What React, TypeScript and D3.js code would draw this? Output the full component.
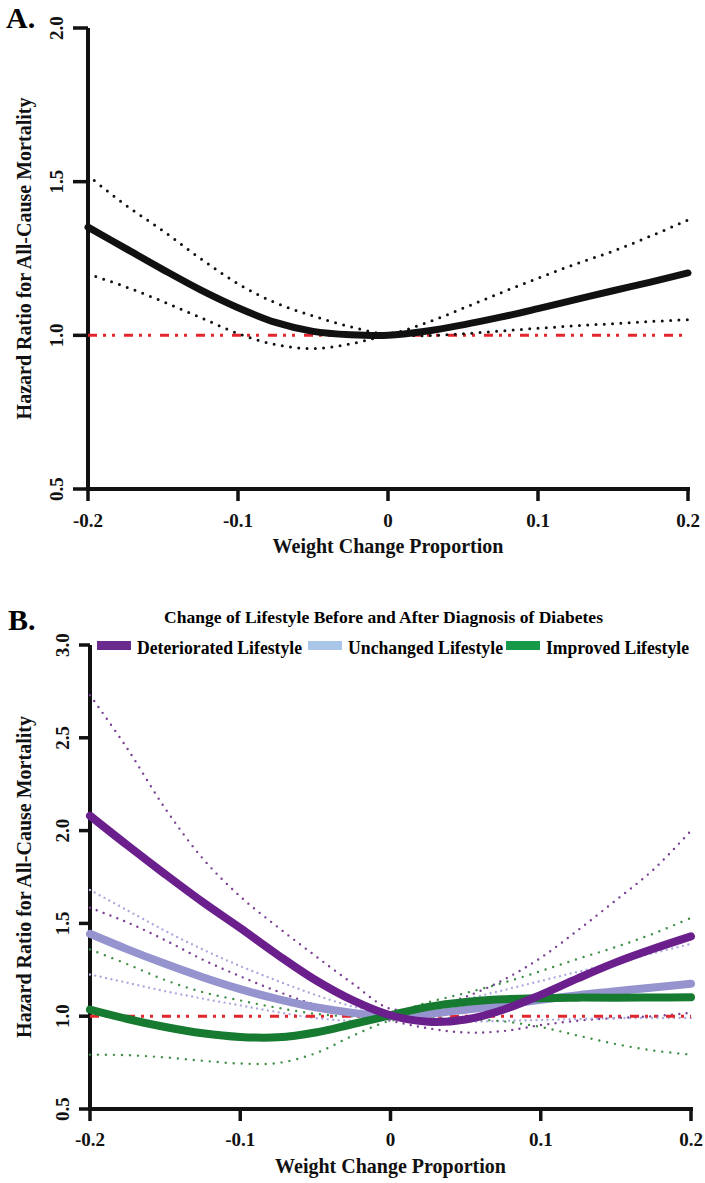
import React from "react";
import * as d3 from "d3";

// shared x grid (weight change proportion)
const xGrid = [-0.2, -0.175, -0.15, -0.125, -0.1, -0.075, -0.05, -0.025, 0, 0.025, 0.05, 0.075, 0.1, 0.125, 0.15, 0.175, 0.2];

const xTicks = [-0.2, -0.1, 0, 0.1, 0.2];
const xTickLabels = ["-0.2", "-0.1", "0", "0.1", "0.2"];
const yTicksA = [0.5, 1.0, 1.5, 2.0];
const yTicksB = [0.5, 1.0, 1.5, 2.0, 2.5, 3.0];

// Panel A: overall
const hrA = [1.352, 1.283, 1.214, 1.148, 1.09, 1.042, 1.013, 1.002, 1.0, 1.013, 1.034, 1.059, 1.087, 1.116, 1.145, 1.173, 1.203];
const upperA = [1.52, 1.424, 1.34, 1.25, 1.168, 1.106, 1.063, 1.028, 1.006, 1.04, 1.088, 1.138, 1.186, 1.232, 1.274, 1.323, 1.375];
const lowerA = [1.2, 1.158, 1.11, 1.058, 1.006, 0.97, 0.957, 0.972, 0.998, 0.999, 1.005, 1.014, 1.023, 1.031, 1.038, 1.045, 1.051];

// Panel B: by lifestyle change
const hrDet = [2.08, 1.92, 1.765, 1.615, 1.475, 1.33, 1.195, 1.085, 1.005, 0.97, 0.982, 1.035, 1.115, 1.205, 1.29, 1.363, 1.43];
const upperDet = [2.73, 2.44, 2.12, 1.85, 1.645, 1.48, 1.325, 1.175, 1.04, 1.05, 1.105, 1.195, 1.315, 1.465, 1.625, 1.79, 2.0];
const lowerDet = [1.584, 1.505, 1.41, 1.305, 1.215, 1.133, 1.062, 1.015, 0.975, 0.935, 0.912, 0.92, 0.952, 0.976, 0.99, 1.0, 1.018];

const hrUnc = [1.444, 1.36, 1.282, 1.21, 1.146, 1.092, 1.048, 1.018, 1.0, 1.012, 1.035, 1.06, 1.088, 1.113, 1.134, 1.155, 1.175];
const upperUnc = [1.68, 1.57, 1.46, 1.36, 1.27, 1.19, 1.115, 1.052, 1.015, 1.035, 1.09, 1.14, 1.19, 1.24, 1.29, 1.34, 1.39];
const lowerUnc = [1.225, 1.18, 1.135, 1.095, 1.058, 1.022, 0.99, 0.975, 0.982, 0.975, 0.97, 0.975, 0.98, 0.985, 0.99, 0.99, 0.99];

const hrImp = [1.036, 0.985, 0.942, 0.908, 0.888, 0.886, 0.912, 0.958, 1.005, 1.05, 1.077, 1.091, 1.097, 1.1, 1.1, 1.101, 1.102];
const upperImp = [1.36, 1.28, 1.195, 1.13, 1.085, 1.045, 1.013, 1.0, 1.015, 1.075, 1.125, 1.18, 1.243, 1.31, 1.373, 1.445, 1.53];
const lowerImp = [0.793, 0.79, 0.778, 0.76, 0.745, 0.748, 0.8, 0.895, 0.975, 0.99, 0.985, 0.972, 0.942, 0.895, 0.85, 0.815, 0.793];

const legendLabels = ["Deteriorated Lifestyle", "Unchanged Lifestyle", "Improved Lifestyle"];
const legendColors = ["#6b2a8e", "#a9c5e8", "#169a4a"];

const FONT = "'Liberation Serif', 'Times New Roman', serif";

const Axes = ({ x, y, yTicks, tickLen, yLabelX, xLabelY, titleY, yTitleX }) => {
  const [x0, x1] = x.range();
  const [yb, yt] = y.range();
  return (
    <g fontFamily={FONT} fontWeight="bold" fill="#111">
      <line x1={x0} x2={x0} y1={yt} y2={yb + 2} stroke="#111" strokeWidth={4} />
      <line x1={x0 - 2} x2={x1 + 2} y1={yb} y2={yb} stroke="#111" strokeWidth={4} />
      {yTicks.map((t) => (
        <g key={t}>
          <line x1={x0 - tickLen} x2={x0} y1={y(t)} y2={y(t)} stroke="#111" strokeWidth={3.5} />
          <text
            transform={`translate(${yLabelX},${y(t)}) rotate(-90)`}
            textAnchor="middle"
            fontSize={19}
          >
            {t.toFixed(1)}
          </text>
        </g>
      ))}
      {xTicks.map((t, i) => (
        <g key={t}>
          <line x1={x(t)} x2={x(t)} y1={yb} y2={yb + 12} stroke="#111" strokeWidth={3.5} />
          <text x={x(t)} y={xLabelY} textAnchor="middle" fontSize={19}>
            {xTickLabels[i]}
          </text>
        </g>
      ))}
      <text x={(x0 + x1) / 2} y={titleY} textAnchor="middle" fontSize={20}>
        Weight Change Proportion
      </text>
      <text
        transform={`translate(${yTitleX},${(yb + yt) / 2}) rotate(-90)`}
        textAnchor="middle"
        fontSize={20}
      >
        Hazard Ratio for All-Cause Mortality
      </text>
    </g>
  );
};

const refLine = (x, y) => (
  <line
    x1={x.range()[0]}
    x2={x.range()[1]}
    y1={y(1)}
    y2={y(1)}
    stroke="#e3262d"
    strokeWidth={3}
    strokeDasharray="9 6 3 6 3 9"
  />
);

const App = () => {
  // Panel A scales
  const xA = d3.scaleLinear().domain([-0.2, 0.2]).range([88, 688]);
  const yA = d3.scaleLinear().domain([0.5, 2.0]).range([489, 28]);
  // Panel B scales
  const xB = d3.scaleLinear().domain([-0.2, 0.2]).range([90, 691]);
  const yB = d3.scaleLinear().domain([0.5, 3.0]).range([1109, 645]);

  const lineA = d3
    .line<number>()
    .x((d, i) => xA(xGrid[i]))
    .y((d) => yA(d))
    .curve(d3.curveCatmullRom.alpha(0.5));
  const lineB = d3
    .line<number>()
    .x((d, i) => xB(xGrid[i]))
    .y((d) => yB(d))
    .curve(d3.curveCatmullRom.alpha(0.5));

  const dotted = (path, color, gap, w = 2.8) => (
    <path
      d={path}
      fill="none"
      stroke={color}
      strokeWidth={w}
      strokeLinecap="round"
      strokeDasharray={`0 ${gap}`}
    />
  );
  const solid = (path, color, w) => (
    <path d={path} fill="none" stroke={color} strokeWidth={w} strokeLinecap="round" />
  );

  // legend layout
  const swX = [97, 308, 506];
  const txtW = [165, 155, 143];

  return (
    <svg
      width={705}
      height={1183}
      style={{ position: "absolute", left: 0, top: 0, background: "#fff" }}
    >
      {/* Panel A */}
      <text x={6} y={28} fontFamily={FONT} fontWeight="bold" fontSize={30}>
        A.
      </text>
      <Axes x={xA} y={yA} yTicks={yTicksA} tickLen={15} yLabelX={63} xLabelY={527} titleY={553} yTitleX={31} />
      {refLine(xA, yA)}
      {dotted(lineA(upperA), "#111", 8.3, 3)}
      {dotted(lineA(lowerA), "#111", 8.3, 3)}
      {solid(lineA(hrA), "#111", 7)}

      {/* Panel B */}
      <text x={8} y={630} fontFamily={FONT} fontWeight="bold" fontSize={30}>
        B.
      </text>
      <text
        x={164}
        y={623}
        fontFamily={FONT}
        fontWeight="bold"
        fontSize={17}
        textLength={439}
        lengthAdjust="spacingAndGlyphs"
      >
        Change of Lifestyle Before and After Diagnosis of Diabetes
      </text>
      {legendLabels.map((l, i) => (
        <g key={l}>
          <rect x={swX[i]} y={641} width={34} height={9} fill={legendColors[i]} />
          <text
            x={swX[i] + 40}
            y={654}
            fontFamily={FONT}
            fontWeight="bold"
            fontSize={18}
            textLength={txtW[i]}
            lengthAdjust="spacingAndGlyphs"
          >
            {l}
          </text>
        </g>
      ))}
      <Axes x={xB} y={yB} yTicks={yTicksB} tickLen={11} yLabelX={69} xLabelY={1146} titleY={1173} yTitleX={31} />
      {dotted(lineB(upperDet), "#7b3f93", 7.3, 2.4)}
      {dotted(lineB(lowerDet), "#7b3f93", 7.3, 2.4)}
      {dotted(lineB(upperUnc), "#aeacdc", 5.5, 2.4)}
      {dotted(lineB(lowerUnc), "#aeacdc", 5.5, 2.4)}
      {dotted(lineB(upperImp), "#3f8f45", 8, 2.4)}
      {dotted(lineB(lowerImp), "#3f8f45", 8, 2.4)}
      {refLine(xB, yB)}
      {solid(lineB(hrUnc), "#9694cf", 8)}
      {solid(lineB(hrImp), "#177a31", 8)}
      {solid(lineB(hrDet), "#6a1f8c", 8)}
    </svg>
  );
};

export default App;
